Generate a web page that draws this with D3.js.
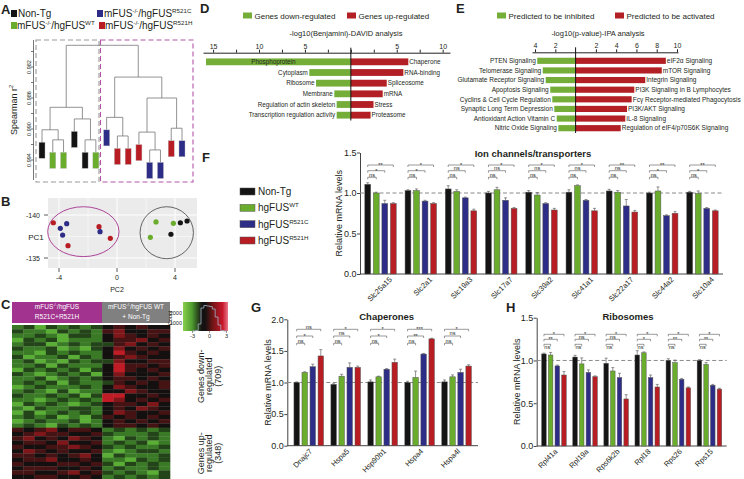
<!DOCTYPE html>
<html>
<head>
<meta charset="utf-8">
<script src="https://cdn.jsdelivr.net/npm/d3@7"></script>
<style>
body{margin:0;background:#fff;}
svg text{font-family:Arial,"Liberation Sans",Helvetica,sans-serif;fill:#231f20;}
</style>
</head>
<body>
<div id="fig"></div>
<script>
//groups used everywhere
const groupKeys = ["nt", "wt", "c", "h"];
const groupColors = ["#141414", "#6aad2c", "#2d2c86", "#b81d24"];

//A : dendrogram (leaf order, hclust style merges, spearman r2 heights)
const leafGroups = ["nt","wt","wt","nt","nt","wt","c","h","h","h","c","c","h","c"];
const mergeLeft = [-2, -5, -8, -11, -13, -1, -4, -7, -10, 9, 6, 8, 11];
const mergeRight = [-3, -6, -9, -12, -14, 1, 2, 3, 4, 5, 7, 10, 12];
const mergeHeight = [0.9914, 0.9914, 0.9909, 0.9927, 0.9899, 0.9901, 0.9887, 0.9885, 0.9904, 0.9860, 0.9872, 0.9833, 0.9792];
const spearmanTicks = [0.980, 0.982, 0.984, 0.986, 0.988, 0.990, 0.992, 0.994];
const spearmanLabels = [0.982, 0.986, 0.990, 0.994];

//B : PCA
const pcaGroup = ["h","c","c","c","h","h","c","h","wt","wt","nt","nt","nt","wt"];
const pc2 = [-4.39, -3.47, -3.91, -3.75, -3.38, -1.24, -1.17, -0.46, 2.69, 3.89, 4.37, 4.83, 3.72, 2.30];
const pc1 = [-139.1, -138.99, -138.45, -137.67, -136.43, -138.64, -138.06, -137.29, -139.19, -139.03, -139.1, -139.3, -137.76, -137.4];
const ellipseCx = [-2.32, 3.43];
const ellipseCy = [-138.06, -137.94];
const ellipseRx = [2.46, 1.84];
const ellipseRy = [2.9, 3.02];
const pc2Ticks = [-4, 0, 4];
const pc1Ticks = [-140, -135];

//C : heatmap, one digit per sample (5 = 0)
const heatDown = [
	"34243434565655","43324343675566","33432443576565","24342333566756",
	"34423434467565","43342324575656","33243433586565","42334243567655",
	"34232434475566","33424333586656","24343424586565","43234342575556",
	"33423434566565","34342433465656","23433343576556","34324233557655",
	"43343424885565","33234343875656","24343234566575","32433443565765",
	"24234343576556","34342324656565","23433423565656","34324343566565"
];
const heatUp = [
	"65675665343434","56766556433343","67565765324343","56657556343423",
	"65566765434334","57656556323443","66565675243334","56675565332434",
	"65556656424343","56665565343343","66556756434324","55665565343434"
];
const histCounts = [100, 250, 900, 2500, 2750, 2700, 2650, 2400, 1600, 800, 250, 80];

//D : DAVID
const davidDownTerms = ["Phosphoprotein","Cytoplasm","Ribosome","Membrane","Regulation of actin skeleton","Transcription regulation activity"];
const davidDownValues = [15.77, 4.52, 3.79, 1.8, 1.54, 1.54];
const davidUpTerms = ["Chaperone","RNA-binding","Spliceosome","mRNA","Stress","Proteasome"];
const davidUpValues = [6.26, 5.72, 3.91, 3.47, 2.47, 2.15];

//E : IPA
const ipaDownTerms = ["PTEN Signaling","Telomerase Signaling","Glutamate Receptor Signaling","Apoptosis Signaling","Cyclins & Cell Cycle Regulation","Synaptic Long Term Depression","Antioxidant Action Vitamin C","Nitric Oxide Signaling"];
const ipaDownValues = [3.78, 3.24, 2.95, 2.5, 2.3, 2.1, 1.86, 1.7];
const ipaUpTerms = ["eIF2\u03b1 Signaling","mTOR Signaling","Integrin Signaling","PI3K Signaling in B Lymphocytes","Fc\u03b3 Receptor-mediated Phagocytosis","PI3K/AKT Signaling","IL-8 Signaling","Regulation of eIF4/p70S6K Signaling"];
const ipaUpValues = [8.9, 8.5, 6.87, 5.79, 5.53, 5.07, 4.9, 4.45];

//F : ion channels (non-tg, wt, r521c, r521h)
const ionGenes = ["Slc25a15","Slc2a1","Slc19a3","Slc17a7","Slc39a2","Slc41a1","Slc22a17","Slc44a2","Slc10a4"];
const ionMeans = [[1.107,1.0,0.87,0.87],[1.03,1.03,0.9,0.87],[1.05,1.02,0.94,0.78],[1.0,1.04,0.91,0.81],[1.01,0.975,0.87,0.79],[1.01,1.09,0.91,0.78],[1.025,1.01,0.84,0.765],[1.0,1.025,0.72,0.75],[1.01,0.995,0.81,0.78]];
const ionErrors = [[0.02,0.01,0.04,0.01],[0.01,0.02,0.01,0.01],[0.04,0.02,0.01,0.02],[0.02,0.03,0.03,0.01],[0.02,0.03,0.01,0.02],[0.03,0.01,0.01,0.03],[0.02,0.02,0.08,0.02],[0.01,0.05,0.01,0.02],[0.01,0.03,0.01,0.01]];
const ionSig = [["ns","*","**"],["ns","*","*"],["ns","ns","*"],["ns","ns","*"],["ns","ns","*"],["ns","ns","*"],["ns","ns","**"],["ns","*","**"],["ns","*","**"]];

//G : chaperones
const chapGenes = ["Dnajc7","Hspa5","Hsp90b1","Hspa4","Hspa4l"];
const chapMeans = [[1.0,1.16,1.25,1.42],[0.97,1.1,1.24,1.24],[1.01,1.09,1.21,1.32],[1.0,1.08,1.45,1.69],[1.01,1.09,1.16,1.26]];
const chapErrors = [[0.01,0.01,0.04,0.1],[0.01,0.03,0.07,0.02],[0.03,0.01,0.01,0.05],[0.02,0.1,0.01,0.01],[0.03,0.03,0.05,0.02]];
const chapSig = [["ns","*","ns"],["ns","ns","*"],["ns","*","*"],["ns","**","***"],["ns","ns","*"]];

//H : ribosomes
const riboGenes = ["Rpl41a","Rpl19a","Rps6k2b","Rpl18","Rps26","Rps15"];
const riboMeans = [[1.076,1.064,0.936,0.83],[1.04,0.96,0.86,0.81],[0.967,0.877,0.8,0.55],[1.064,1.09,0.8,0.69],[1.0,0.974,0.78,0.68],[1.0,0.955,0.71,0.665]];
const riboErrors = [[0.01,0.03,0.01,0.04],[0.02,0.07,0.03,0.01],[0.06,0.04,0.05,0.05],[0.05,0.01,0.03,0.03],[0.02,0.03,0.01,0.01],[0.01,0.02,0.01,0.01]];
const riboSig = [["ns","**","*"],["ns","ns","*"],["ns","ns","*"],["ns","*","*"],["ns","**","*"],["ns","**","*"]];

const legendA = [[["Non-Tg"]],[["mFUS"],["-/-",1],["/hgFUS"],["WT",1]],[["mFUS"],["-/-",1],["/hgFUS"],["R521C",1]],[["mFUS"],["-/-",1],["/hgFUS"],["R521H",1]]];
const legendF = [[["Non-Tg"]],[["hgFUS"],["WT",1]],[["hgFUS"],["R521C",1]],[["hgFUS"],["R521H",1]]];


const colorOf = d3.scaleOrdinal().domain(groupKeys).range(groupColors);
const svg = d3.select("#fig").append("svg").attr("width", 744).attr("height", 479);

//text with superscripts
function richText(parent, x, y, parts, size){
	let t = parent.append("text").attr("x", x).attr("y", y).attr("font-size", size);
	let raised = false;
	parts.forEach((p)=>{
		let s = t.append("tspan").text(p[0]);
		if (p[1]) {
			s.attr("font-size", size*0.62);
			if (!raised) { s.attr("dy", -size*0.4); raised = true; }
		} else if (raised) { s.attr("dy", size*0.4); raised = false; }
	});
	return t;
}

function letter(l, x, y){
	svg.append("text").attr("x", x).attr("y", y).attr("font-size", 13).attr("font-weight", "bold").text(l);
}


//---------------- A ----------------
function panelA(){
	let g = svg.append("g");
	let pos = [[11,10,18,17],[11,22,17,28.5],[97,10,104,17],[99,22,105,28.5]];
	legendA.forEach((lab,i)=>{
		g.append("rect").attr("x", pos[i][0]).attr("y", pos[i][1]).attr("width", 6).attr("height", 7).attr("fill", groupColors[i]);
		richText(g, pos[i][2], pos[i][3], lab, 10);
	});

	//dashed boxes
	g.append("rect").attr("x", 36).attr("y", 40).attr("width", 63).attr("height", 142)
		.attr("fill", "none").attr("stroke", "#9a9a9a").attr("stroke-width", 1.1).attr("stroke-dasharray", "5,3");
	g.append("rect").attr("x", 100.5).attr("y", 40).attr("width", 92.5).attr("height", 142)
		.attr("fill", "none").attr("stroke", "#b355a6").attr("stroke-width", 1.1).attr("stroke-dasharray", "5,3");

	const yA = d3.scaleLinear().domain([0.982, 0.994]).range([67, 160]);
	const xA = d3.scalePoint().domain(d3.range(leafGroups.length)).range([42, 182]);

	//axis
	let ax = g.append("g").attr("transform", "translate(33.5,0)");
	ax.append("line").attr("y1", 40).attr("y2", 180).attr("stroke", "#555").attr("stroke-width", 0.8);
	ax.selectAll(".tk").data(spearmanTicks).join("line")
		.attr("x1", -2.5).attr("x2", 0).attr("y1", d=>yA(d)).attr("y2", d=>yA(d)).attr("stroke", "#555").attr("stroke-width", 0.8);
	ax.selectAll(".lb").data(spearmanLabels).join("text")
		.attr("transform", d=>`translate(-3,${yA(d)}) rotate(-90)`)
		.attr("text-anchor", "middle").attr("font-size", 5.5).attr("fill", "#444").text(d=>d.toFixed(3));
	richText(g, 0, 0, [["Spearman r"],["2",1]], 9).attr("transform", "translate(17,110) rotate(-90)").attr("text-anchor", "middle");

	//dendrogram
	const leafDrop = 12.5;
	let nodes = [];
	let leafTop = [];
	let childPos = (id)=> id < 0 ? {x: xA(-id-1), leaf: -id-1} : nodes[id-1];
	mergeHeight.forEach((h,i)=>{
		let a = childPos(mergeLeft[i]), b = childPos(mergeRight[i]);
		let yy = yA(h);
		g.append("line").attr("x1", a.x).attr("x2", b.x).attr("y1", yy).attr("y2", yy)
			.attr("stroke", "#777").attr("stroke-width", 0.8);
		[a,b].forEach((c)=>{
			let y2 = c.leaf !== undefined ? yy + leafDrop : yA(c.h);
			if (c.leaf !== undefined) leafTop[c.leaf] = y2;
			g.append("line").attr("x1", c.x).attr("x2", c.x).attr("y1", yy).attr("y2", y2)
				.attr("stroke", "#777").attr("stroke-width", 0.8);
		});
		nodes.push({x: (a.x+b.x)/2, h: h});
	});
	g.selectAll(".leaf").data(leafGroups).join("rect")
		.attr("x", (d,i)=>xA(i)-3).attr("y", (d,i)=>leafTop[i])
		.attr("width", 6).attr("height", 16)
		.attr("fill", d=>colorOf(d)).attr("stroke", "#bbb").attr("stroke-width", 0.4);
}


//---------------- B ----------------
function panelB(){
	let g = svg.append("g");
	const xB = d3.scaleLinear().domain([-4, 4]).range([59, 175]);
	const yB = d3.scaleLinear().domain([-140, -135]).range([215, 258]);
	g.append("rect").attr("x", 48).attr("y", 198).attr("width", 149).attr("height", 70).attr("fill", "#ebebeb");
	[-2, 2].forEach(v=> g.append("line").attr("x1", xB(v)).attr("x2", xB(v)).attr("y1", 198).attr("y2", 268).attr("stroke", "#fff").attr("stroke-width", 0.5));
	g.append("line").attr("x1", 48).attr("x2", 197).attr("y1", yB(-137.5)).attr("y2", yB(-137.5)).attr("stroke", "#fff").attr("stroke-width", 0.5);
	pc2Ticks.forEach(v=> g.append("line").attr("x1", xB(v)).attr("x2", xB(v)).attr("y1", 198).attr("y2", 268).attr("stroke", "#fff").attr("stroke-width", 1));
	pc1Ticks.forEach(v=> g.append("line").attr("x1", 48).attr("x2", 197).attr("y1", yB(v)).attr("y2", yB(v)).attr("stroke", "#fff").attr("stroke-width", 1));

	//ticks
	pc2Ticks.forEach(v=>{
		g.append("line").attr("x1", xB(v)).attr("x2", xB(v)).attr("y1", 268).attr("y2", 272).attr("stroke", "#333").attr("stroke-width", 0.8);
		g.append("text").attr("x", xB(v)).attr("y", 280).attr("text-anchor", "middle").attr("font-size", 7).attr("fill", "#333").text(v);
	});
	pc1Ticks.forEach(v=>{
		g.append("line").attr("x1", 44).attr("x2", 48).attr("y1", yB(v)).attr("y2", yB(v)).attr("stroke", "#333").attr("stroke-width", 0.8);
		g.append("text").attr("x", 40).attr("y", yB(v)+2.5).attr("text-anchor", "end").attr("font-size", 7).attr("fill", "#333").text(v);
	});
	g.append("text").attr("x", 36).attr("y", 240).attr("text-anchor", "middle").attr("font-size", 8).attr("fill", "#333").text("PC1");
	g.append("text").attr("x", 117).attr("y", 292).attr("text-anchor", "middle").attr("font-size", 7).attr("fill", "#333").text("PC2");

	//ellipses
	const ellColors = ["#a5328f", "#555"];
	ellipseCx.forEach((cx,i)=>{
		g.append("ellipse").attr("cx", xB(cx)).attr("cy", yB(ellipseCy[i]))
			.attr("rx", xB(ellipseRx[i]) - xB(0)).attr("ry", yB(-140 + ellipseRy[i]) - yB(-140))
			.attr("fill", "none").attr("stroke", ellColors[i]).attr("stroke-width", 0.9);
	});

	g.selectAll(".pt").data(pcaGroup).join("circle")
		.attr("cx", (d,i)=>xB(pc2[i])).attr("cy", (d,i)=>yB(pc1[i]))
		.attr("r", 2.6).attr("fill", d=>colorOf(d));
}


//---------------- C ----------------
function panelC(){
	let g = svg.append("g");
	g.append("rect").attr("x", 12).attr("y", 302).attr("width", 90).attr("height", 21).attr("fill", "#a2338f");
	g.append("rect").attr("x", 102).attr("y", 302).attr("width", 68).attr("height", 21).attr("fill", "#808080");
	richText(g, 57, 309, [["mFUS"],["-/-",1],["/hgFUS"]], 6.5).attr("text-anchor", "middle").style("fill", "#fff");
	g.append("text").attr("x", 57).attr("y", 319).attr("text-anchor", "middle").attr("font-size", 6.5).style("fill", "#fff").text("R521C+R521H");
	richText(g, 136, 309, [["mFUS"],["-/-",1],["/hgFUS WT"]], 6.5).attr("text-anchor", "middle").style("fill", "#fff");
	g.append("text").attr("x", 136).attr("y", 319).attr("text-anchor", "middle").attr("font-size", 6.5).style("fill", "#fff").text("+ Non-Tg");

	const rows = heatDown.concat(heatUp);
	const yC = d3.scaleBand().domain(d3.range(rows.length)).range([325, 479]);
	const xC = d3.scaleBand().domain(d3.range(14)).range([12, 170]);
	const heatColor = d3.scaleLinear().domain([-1.8, -0.9, 0, 0.9, 1.8])
		.range(["#5aae35", "#2a5e1e", "#141010", "#5e1414", "#c01c26"]);
	let cells = [];
	rows.forEach((r,ri)=>{ r.split("").forEach((c,ci)=>{ cells.push({r: ri, c: ci, v: (+c - 5) * 0.6}); }); });
	g.selectAll(".cell").data(cells).join("rect")
		.attr("x", d=>xC(d.c)).attr("y", d=>yC(d.r))
		.attr("width", xC.bandwidth()+0.3).attr("height", yC.bandwidth()+0.3)
		.attr("fill", d=>heatColor(d.v));

	//colour key
	let grad = svg.append("defs").append("linearGradient").attr("id", "keygrad");
	[["0","#8ad04c"],["0.2","#4e9c30"],["0.42","#151111"],["0.5","#161211"],["0.66","#701515"],["0.88","#c8182a"],["1","#e6788a"]]
		.forEach(s=> grad.append("stop").attr("offset", s[0]).attr("stop-color", s[1]));
	g.append("rect").attr("x", 183).attr("y", 302).attr("width", 45).attr("height", 29).attr("fill", "url(#keygrad)");
	const xK = d3.scaleLinear().domain([-3, 3]).range([192.5, 226.5]);
	const yK = d3.scaleLinear().domain([0, 3000]).range([333, 303]);
	let pts = histCounts.map((c,i)=>[-3 + i*0.5, c]);
	pts.push([3, histCounts[histCounts.length-1]]);
	g.append("path").attr("d", d3.line().curve(d3.curveStepAfter).x(d=>xK(d[0])).y(d=>Math.min(yK(d[1]), 331))(pts))
		.attr("fill", "none").attr("stroke", "#9fb2c6").attr("stroke-width", 0.8);
	[1000, 2000].forEach(v=>{
		g.append("text").attr("x", 182).attr("y", yK(v)+2).attr("text-anchor", "end").attr("font-size", 5.5).attr("fill", "#333").text(v);
	});
	[-3, 0, 3].forEach(v=>{
		g.append("line").attr("x1", xK(v)).attr("x2", xK(v)).attr("y1", 331).attr("y2", 333).attr("stroke", "#333").attr("stroke-width", 0.5);
		g.append("text").attr("x", xK(v)).attr("y", 338).attr("text-anchor", "middle").attr("font-size", 5.5).attr("fill", "#333").text(v);
	});
	g.append("text").attr("transform", "translate(172,318) rotate(-90)").attr("text-anchor", "middle").attr("font-size", 5.5).attr("fill", "#333").text("Count");

	//row group labels
	let lab = [["Genes down-","regulated","(709)"],["Genes up-","regulated","(348)"]];
	let mid = [yC(0) + (yC(heatDown.length-1)+yC.bandwidth()-yC(0))/2, yC(heatDown.length) + (479 - yC(heatDown.length))/2];
	lab.forEach((ls,k)=>{
		ls.forEach((t,j)=>{
			g.append("text").attr("transform", `translate(${203.5 + j*8.8},${mid[k]}) rotate(-90)`)
				.attr("text-anchor", "middle").attr("font-size", 9).attr("fill", "#333").text(t);
		});
	});
}


//---------------- D & E ----------------
function divergingPanel(o){
	let g = svg.append("g");
	const x = d3.scaleLinear().domain(o.domain).range(o.range);
	const rows = d3.scaleBand().domain(d3.range(o.downValues.length)).range(o.rowRange).paddingInner(0.36).paddingOuter(0.18);

	let ax = g.append("g").attr("transform", `translate(0,${o.axisY})`)
		.call(d3.axisTop(x).tickValues(o.ticks).tickFormat(d=> o.labelled.includes(d) ? Math.abs(d) : "").tickSize(3).tickSizeOuter(0));
	ax.select(".domain").attr("stroke", "#222");
	ax.selectAll(".tick line").attr("stroke", "#222");
	ax.selectAll(".tick text").attr("font-size", 7).attr("fill", "#333").attr("y", -4);

	g.append("text").attr("x", o.titleX).attr("y", 36).attr("text-anchor", "middle").attr("font-size", 7.5).attr("fill", "#333").text(o.title);

	//legend
	o.legend.forEach((l,i)=>{
		g.append("rect").attr("x", o.legendX[i]).attr("y", 12.5).attr("width", 9).attr("height", 6).attr("fill", o.colors[i]);
		g.append("text").attr("x", o.legendX[i] + 11.5).attr("y", 18.5).attr("font-size", 8).attr("fill", "#333").text(l);
	});

	g.selectAll(".dn").data(o.downValues).join("rect")
		.attr("x", d=>x(-d)).attr("width", d=>x(0)-x(-d))
		.attr("y", (d,i)=>rows(i)).attr("height", rows.bandwidth()).attr("fill", o.colors[0]);
	g.selectAll(".up").data(o.upValues).join("rect")
		.attr("x", x(0)).attr("width", d=>x(d)-x(0))
		.attr("y", (d,i)=>rows(i)).attr("height", rows.bandwidth()).attr("fill", o.colors[1]);

	o.downValues.forEach((d,i)=>{
		let t = g.append("text").attr("x", x(-d)-1.5).attr("y", rows(i)+rows.bandwidth()/2+2.2)
			.attr("text-anchor", "end").attr("font-size", o.fs).attr("fill", "#222").text(o.downTerms[i]);
		if (x(-d) - 1.5 - t.node().getComputedTextLength() < o.labelBound) {
			t.attr("x", (x(-d)+x(0))/2 - 5).attr("text-anchor", "middle");
		}
	});
	o.upValues.forEach((d,i)=>{
		g.append("text").attr("x", x(d)+1).attr("y", rows(i)+rows.bandwidth()/2+2.2)
			.attr("font-size", o.fs).attr("fill", "#222").text(o.upTerms[i]);
	});
	g.append("line").attr("x1", x(0)).attr("x2", x(0)).attr("y1", o.axisY-5).attr("y2", o.rowRange[1]).attr("stroke", "#111").attr("stroke-width", 1);
}


//---------------- F, G, H ----------------
function barPanel(o){
	let g = svg.append("g");
	const x = d3.scaleBand().domain(o.genes).range([o.left, o.right]).paddingInner(o.padIn).paddingOuter(o.padOut);
	const xi = d3.scaleBand().domain(groupKeys).range([0, x.bandwidth()]).paddingInner(0.32);
	const y = d3.scaleLinear().domain([0, o.yMax]).range([o.bottom, o.top]);

	let ay = g.append("g").attr("transform", `translate(${o.left},0)`)
		.call(d3.axisLeft(y).tickValues(o.ticks).tickFormat(d3.format(".1f")).tickSize(3).tickSizeOuter(0));
	ay.select(".domain").attr("stroke", "#444");
	ay.selectAll(".tick line").attr("stroke", "#444");
	ay.selectAll(".tick text").attr("font-size", 9).attr("fill", "#333").attr("x", -3.5);

	g.append("line").attr("x1", o.left).attr("x2", o.right).attr("y1", o.bottom).attr("y2", o.bottom).attr("stroke", "#444");
	g.append("line").attr("x1", o.left).attr("x2", o.right).attr("y1", y(1)).attr("y2", y(1))
		.attr("stroke", "#8a8a8a").attr("stroke-width", 1).attr("stroke-dasharray", "4,2.5");

	let table = [];
	o.genes.forEach((gene,gi)=>{ groupKeys.forEach((k,ki)=>{ table.push({gene: gene, k: k, v: o.means[gi][ki], e: o.errs[gi][ki]}); }); });
	let cx = (d)=> x(d.gene) + xi(d.k) + xi.bandwidth()/2;

	g.selectAll(".err").data(table).join("path")
		.attr("d", d=>`M${cx(d)},${y(d.v)}V${y(d.v+d.e)}M${cx(d)-1.5},${y(d.v+d.e)}H${cx(d)+1.5}`)
		.attr("stroke", "#666").attr("stroke-width", 0.7).attr("fill", "none");
	g.selectAll(".bar").data(table).join("rect")
		.attr("x", d=>x(d.gene)+xi(d.k)).attr("width", xi.bandwidth())
		.attr("y", d=>y(d.v)).attr("height", d=>y(0)-y(d.v))
		.attr("fill", d=>colorOf(d.k)).attr("stroke", "#555").attr("stroke-width", 0.5);

	//significance brackets
	let gap = o.brY[0] - o.brY[1];
	o.genes.forEach((gene,gi)=>{
		let x1 = x(gene) + xi("nt") + xi.bandwidth()/2;
		[1,2,3].forEach((ki)=>{
			let x2 = x(gene) + xi(groupKeys[ki]) + xi.bandwidth()/2;
			let yy = o.brY[ki-1];
			g.append("path").attr("d", `M${x1},${yy+2}V${yy}H${x2}V${yy+2}`)
				.attr("stroke", "#555").attr("stroke-width", 0.6).attr("fill", "none");
			let s = o.sig[gi][ki-1];
			let ty = s === "ns" ? yy - 0.8 : yy + 1.8;
			if (s === "ns" && ki === 1 && gap < 6) ty = yy + 4.6;
			g.append("text").attr("x", (x1+x2)/2).attr("y", ty)
				.attr("text-anchor", "middle").attr("font-size", 5.6).attr("fill", "#333").text(s);
		});
	});

	g.selectAll(".xl").data(o.genes).join("text")
		.attr("transform", d=>`translate(${x(d)+x.bandwidth()/2+o.labDx},${o.bottom+6}) rotate(-45)`)
		.attr("text-anchor", "end").attr("font-size", 7.5).attr("fill", "#333").text(d=>d);

	g.append("text").attr("x", o.titleX).attr("y", o.titleY).attr("text-anchor", "middle")
		.attr("font-size", 9.5).attr("font-weight", "bold").text(o.title);
	g.append("text").attr("transform", `translate(${o.ylabX},${(o.top+o.bottom)/2}) rotate(-90)`)
		.attr("text-anchor", "middle").attr("font-size", 9).attr("fill", "#333").text("Relative mRNA levels");
}


panelA();
panelB();
panelC();

divergingPanel({
	domain: [-16.1, 10.8], range: [203, 450], axisY: 52.7, rowRange: [56.5, 120.5], labelBound: 200,
	ticks: [-15,-12.5,-10,-7.5,-5,-2.5,0,2.5,5,7.5,10], labelled: [-15,-10,-5,5,10],
	title: "-log10(Benjamini)-DAVID analysis", titleX: 346,
	legend: ["Genes down-regulated", "Genes up-regulated"], legendX: [243, 347],
	colors: ["#74ae38", "#b21f24"], fs: 6.3,
	downTerms: davidDownTerms, downValues: davidDownValues, upTerms: davidUpTerms, upValues: davidUpValues
});
divergingPanel({
	domain: [-4.3, 10.1], range: [532, 678], axisY: 52.3, rowRange: [56, 133], labelBound: 440,
	ticks: [-4,-2,2,4,6,8,10], labelled: [-4,-2,2,4,6,8,10],
	title: "-log10(p-value)-IPA analysis", titleX: 598,
	legend: ["Predicted to be inhibited", "Predicted to be activated"], legendX: [497, 615],
	colors: ["#74ae38", "#b21f24"], fs: 6.5,
	downTerms: ipaDownTerms, downValues: ipaDownValues, upTerms: ipaUpTerms, upValues: ipaUpValues
});

//F legend
let gF = svg.append("g");
const yLegF = d3.scalePoint().domain(d3.range(legendF.length)).range([195, 244]);
legendF.forEach((lab,i)=>{
	gF.append("rect").attr("x", 240).attr("y", yLegF(i)-7).attr("width", 15).attr("height", 7)
		.attr("fill", groupColors[i]).attr("stroke", "#555").attr("stroke-width", 0.5);
	richText(gF, 258, yLegF(i), lab, 10);
});

barPanel({
	genes: ionGenes, means: ionMeans, errs: ionErrors, sig: ionSig,
	left: 360, right: 723, bottom: 274, top: 152.5, yMax: 1.5, ticks: [0, 0.5, 1, 1.5],
	padIn: 0.22, padOut: 0.12, brY: [177.3, 170.7, 165], labDx: 12,
	title: "Ion channels/transporters", titleX: 533, titleY: 156.5, ylabX: 342
});
barPanel({
	genes: chapGenes, means: chapMeans, errs: chapErrors, sig: chapSig,
	left: 287.3, right: 478, bottom: 445.7, top: 319.3, yMax: 2.0, ticks: [0, 0.5, 1, 1.5, 2],
	padIn: 0.2, padOut: 0.18, brY: [343.3, 336, 329.3], labDx: 4,
	title: "Chaperones", titleX: 386.7, titleY: 319.5, ylabX: 271
});
barPanel({
	genes: riboGenes, means: riboMeans, errs: riboErrors, sig: riboSig,
	left: 536.7, right: 726.7, bottom: 446, top: 317.7, yMax: 1.5, ticks: [0, 0.5, 1, 1.5],
	padIn: 0.21, padOut: 0.16, brY: [344.3, 339.3, 334.3], labDx: 4,
	title: "Ribosomes", titleX: 628, titleY: 319.5, ylabX: 520
});

letter("A", 1, 14);
letter("B", 1, 206);
letter("C", 1, 309);
letter("D", 200, 13);
letter("E", 456, 13);
letter("F", 202, 162);
letter("G", 251, 312);
letter("H", 506, 312);
</script>
</body>
</html>
